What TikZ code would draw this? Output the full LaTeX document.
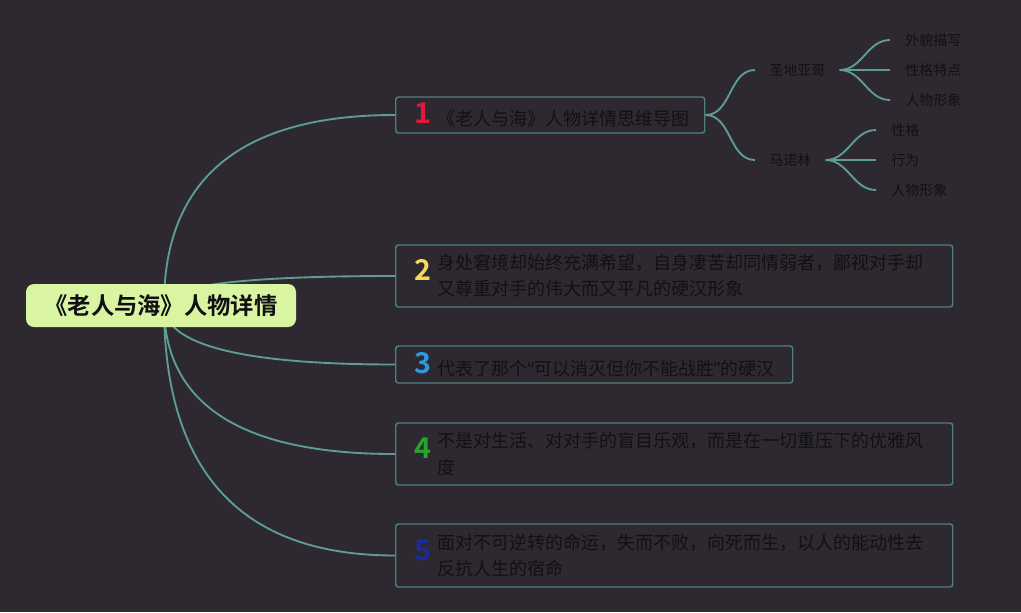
\documentclass[tikz,border=0pt]{standalone}
\usepackage{fontspec}
\setmainfont{Noto Sans CJK SC}[BoldFont={Noto Sans CJK SC Bold}]
\newfontfamily\latinq{Noto Sans}
\usetikzlibrary{positioning,calc}

\newdimen\pxl \pxl=0.75pt
\definecolor{bgdark}{HTML}{2E2931}
\definecolor{branch}{HTML}{5E9E92}
\definecolor{frame}{HTML}{4F807C}
\definecolor{rootfill}{HTML}{DAF5A2}
\definecolor{ink}{HTML}{111013}
\definecolor{numA}{HTML}{E0193A}
\definecolor{numB}{HTML}{F2DA5A}
\definecolor{numC}{HTML}{2A9BE2}
\definecolor{numD}{HTML}{25A52C}
\definecolor{numE}{HTML}{1B2A9C}

\newcommand\digitfont{\bfseries\fontsize{21.5pt}{21.5pt}\selectfont}
% box width, digit colour, digit, text width, text
\newcommand\topic[5]{\makebox[#1\pxl][l]{\hspace*{13\pxl}\makebox[28\pxl]{\digitfont\color{#2}#3}\hspace{1\pxl}\parbox[c]{#4\pxl}{#5}}}

\begin{document}
\begin{tikzpicture}[
    x=0.75pt, y=-0.75pt,
    topicbox/.style={draw=frame, line width=1.1pt, fill=bgdark, rounded corners=2pt, inner sep=0pt,
      anchor=west, text=ink, font=\fontsize{13.5pt}{19.6pt}\selectfont},
    sub/.style={inner xsep=10.5pt, inner ysep=2pt, anchor=west, text=ink,
      font=\fontsize{10.5pt}{12pt}\selectfont},
    leaf/.style={sub, inner xsep=11.25pt},
    branchline/.style={draw=branch, line width=1.4pt},
  ]
  \fill[bgdark] (0,0) rectangle (1021,612);
  \useasboundingbox (0,0) rectangle (1021,612);

  \coordinate (hub) at (164,305);

  % main topics
  \node[topicbox, minimum height=27pt] (b1) at (395,115)
    {\topic{309}{numA}{1}{290}{《老人与海》人物详情思维导图}};
  \node[topicbox, minimum height=46.5pt] (b2) at (395,276)
    {\topic{557}{numB}{2}{510}{身处窘境却始终充满希望，自身凄苦却同情弱者，鄙视对手却\\又尊重对手的伟大而又平凡的硬汉形象}};
  \node[topicbox, minimum height=27.75pt] (b3) at (395,364.5)
    {\topic{397}{numC}{3}{355}{代表了那个{\latinq“}可以消灭但你不能战胜{\latinq”}的硬汉}};
  \node[topicbox, minimum height=46.5pt] (b4) at (395,454)
    {\topic{557}{numD}{4}{510}{不是对生活、对对手的盲目乐观，而是在一切重压下的优雅风\\度}};
  \node[topicbox, minimum height=47.25pt] (b5) at (395,555.5)
    {\topic{557}{numE}{5}{510}{面对不可逆转的命运，失而不败，向死而生，以人的能动性去\\反抗人生的宿命}};

  % characters
  \node[sub] (sa) at (755,70) {圣地亚哥};
  \node[sub] (mn) at (755,160) {马诺林};
  \node[leaf] (sa1) at (890,40) {外貌描写};
  \node[leaf] (sa2) at (890,70) {性格特点};
  \node[leaf] (sa3) at (890,100) {人物形象};
  \node[leaf] (mn1) at (876,130) {性格};
  \node[leaf] (mn2) at (876,160) {行为};
  \node[leaf] (mn3) at (876,190) {人物形象};

  % connectors
  \foreach \b in {b1,b2,b3,b4,b5}
    \draw[branchline] (hub) .. controls ($(hub)!2/3!(hub |- \b.west)$)
      and ($(\b.west)!2/3!(hub |- \b.west)$) .. (\b.west);
  \foreach \s in {sa,mn}
    \draw[branchline] (b1.east) to[out=0, in=180] (\s.west);
  \foreach \l in {sa1,sa2,sa3}
    \draw[branchline] (sa.east) to[out=0, in=180] (\l.west);
  \foreach \l in {mn1,mn2,mn3}
    \draw[branchline] (mn.east) to[out=0, in=180] (\l.west);

  % central topic
  \node[fill=rootfill, rounded corners=6pt, minimum width=202.5pt, minimum height=32.25pt,
    text=ink, font=\bfseries\fontsize{17.5pt}{20pt}\selectfont] (root) at (161,305.5) {《老人与海》人物详情};
\end{tikzpicture}
\end{document}
